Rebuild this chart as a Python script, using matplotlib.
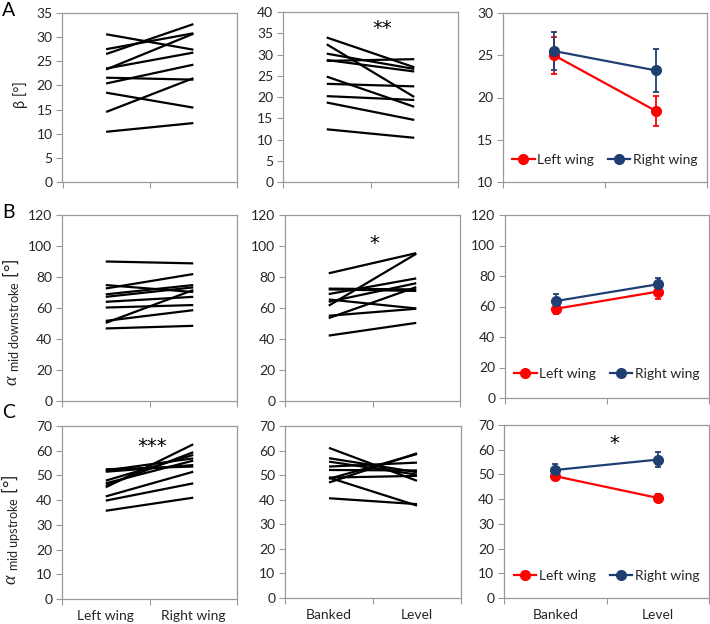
import numpy as np
import matplotlib.pyplot as plt
from matplotlib.lines import Line2D

plt.rcParams['font.family'] = ['Lato', 'DejaVu Sans']
plt.rcParams['mathtext.fontset'] = 'custom'
plt.rcParams['mathtext.rm'] = 'Lato'
plt.rcParams['mathtext.it'] = 'Liberation Serif:italic'

W, H = 710, 624

# category labels
wing_labels = ['Left wing', 'Right wing']
flight_labels = ['Banked', 'Level']

# A: beta, individual birds
beta_lw = [10.4, 14.5, 18.5, 21.6, 20.4, 23.3, 23.5, 26.5, 27.5, 30.6]
beta_rw = [12.2, 21.5, 15.4, 21.2, 24.3, 30.7, 26.8, 32.7, 30.8, 27.4]
beta_banked = [12.4, 18.7, 20.2, 23.1, 24.8, 28.5, 28.7, 30.2, 32.4, 34.0]
beta_level = [10.4, 14.6, 19.3, 22.5, 17.7, 28.9, 26.0, 26.6, 20.0, 27.0]

# B: alpha mid downstroke
down_lw = [90.0, 46.8, 60.3, 51.7, 50.4, 64.0, 67.2, 68.8, 72.6, 74.8]
down_rw = [88.8, 48.5, 61.9, 58.6, 71.6, 67.2, 73.3, 74.8, 81.9, 70.3]
down_banked = [42.2, 82.4, 61.5, 72.5, 72.0, 69.0, 65.5, 64.0, 55.0, 53.5]
down_level = [50.4, 95.4, 95.0, 72.0, 71.0, 79.1, 59.7, 76.0, 59.5, 73.5]

# C: alpha mid upstroke
up_lw = [35.7, 39.8, 41.5, 45.2, 45.8, 46.8, 47.9, 51.5, 52.5, 52.0]
up_rw = [41.0, 46.8, 51.5, 62.6, 59.4, 56.0, 58.3, 54.2, 53.6, 56.9]
up_banked = [40.6, 49.0, 61.1, 47.0, 48.5, 56.9, 55.5, 53.5, 52.1, 49.0]
up_level = [38.2, 37.6, 47.7, 58.9, 58.6, 51.2, 50.2, 55.1, 51.9, 49.7]

# means +- error (left / right wing, banked vs level)
beta_left_mean, beta_left_err = [25.0, 18.4], [2.2, 1.75]
beta_right_mean, beta_right_err = [25.5, 23.2], [2.2, 2.5]
down_left_mean, down_left_err = [58.5, 69.8], [3.2, 5.2]
down_right_mean, down_right_err = [63.6, 74.6], [4.6, 4.3]
up_left_mean, up_left_err = [49.3, 40.5], [1.7, 1.4]
up_right_mean, up_right_err = [51.8, 56.0], [2.3, 3.0]

RED = '#FF0000'
BLUE = '#1F3F73'
GRID = '#9A9A9A'
TXT = '#262626'
FS = 10

fig = plt.figure(figsize=(W / 100, H / 100), dpi=100)


def make_ax(x0, x1, y0, y1):
    return fig.add_axes([x0 / W, 1 - y1 / H, (x1 - x0) / W, (y1 - y0) / H])


def style(ax, ylim, step, xlabels=None):
    ax.set_xlim(-0.5, 1.5)
    ax.set_ylim(*ylim)
    ax.set_yticks(np.arange(ylim[0], ylim[1] + 0.1, step))
    ax.set_xticks([0, 1])
    ax.set_xticks([-0.5, 0.5, 1.5], minor=True)
    if xlabels:
        ax.set_xticklabels(xlabels)
    else:
        ax.set_xticklabels([])
    ax.tick_params(axis='x', which='major', length=0, pad=8, labelsize=FS, labelcolor=TXT)
    ax.tick_params(axis='x', which='minor', length=4, width=0.8, color=GRID, direction='out')
    ax.tick_params(axis='y', length=4, width=0.8, color=GRID, pad=3, labelsize=FS, labelcolor=TXT)
    for sp in ax.spines.values():
        sp.set_color(GRID)
        sp.set_linewidth(0.9)


def spaghetti(ax, a, b):
    for v0, v1 in zip(a, b):
        ax.plot([0, 1], [v0, v1], color='black', lw=1.6, solid_capstyle='butt')


def stars(ax, x, y, s):
    ax.text(x, y, s, ha='center', va='center', fontsize=14, color='black',
            family='DejaVu Sans')


def means(ax, lm, le, rm, re_):
    ax.errorbar([0, 1], lm, yerr=le, color=RED, lw=1.6, marker='o', ms=7,
                capsize=2.5, elinewidth=1.3, capthick=1.3)
    ax.errorbar([0, 1], rm, yerr=re_, color=BLUE, lw=1.6, marker='o', ms=7,
                capsize=2.5, elinewidth=1.3, capthick=1.3)
    handles = [Line2D([], [], color=RED, lw=1.6, marker='o', ms=7),
               Line2D([], [], color=BLUE, lw=1.6, marker='o', ms=7)]
    ax.legend(handles, ['Left wing', 'Right wing'], loc='center', bbox_to_anchor=(0.5, 0.13),
              ncol=2, frameon=False, fontsize=FS, handlelength=1.6, handletextpad=0.2,
              columnspacing=1.0, labelcolor=TXT)


# row A
ax = make_ax(62.5, 237, 13, 182)
spaghetti(ax, beta_lw, beta_rw)
style(ax, (0, 35), 5)

ax = make_ax(283, 458, 12, 182)
spaghetti(ax, beta_banked, beta_level)
style(ax, (0, 40), 5)
stars(ax, 0.63, 36.2, '**')

ax = make_ax(503, 707, 13, 182)
means(ax, beta_left_mean, beta_left_err, beta_right_mean, beta_right_err)
style(ax, (10, 30), 5)

# row B
ax = make_ax(62, 237, 215, 401)
spaghetti(ax, down_lw, down_rw)
style(ax, (0, 120), 20)

ax = make_ax(285, 460, 215, 401)
spaghetti(ax, down_banked, down_level)
style(ax, (0, 120), 20)
stars(ax, 0.52, 101.5, '*')

ax = make_ax(505, 709, 215, 398)
means(ax, down_left_mean, down_left_err, down_right_mean, down_right_err)
style(ax, (0, 120), 20)

# row C
ax = make_ax(62, 237, 426, 599)
spaghetti(ax, up_lw, up_rw)
style(ax, (0, 70), 10, wing_labels)
stars(ax, 0.53, 61.8, '***')

ax = make_ax(285, 461, 426, 598)
spaghetti(ax, up_banked, up_level)
style(ax, (0, 70), 10, flight_labels)

ax = make_ax(504, 709, 425, 598)
means(ax, up_left_mean, up_left_err, up_right_mean, up_right_err)
style(ax, (0, 70), 10, flight_labels)
stars(ax, 0.58, 62.6, '*')

# panel letters
for letter, y in [('A', 11), ('B', 213), ('C', 412)]:
    fig.text(2 / W, 1 - y / H, letter, fontsize=14, color='black', ha='left', va='center')

# y-axis labels
fig.text(21 / W, 1 - 95 / H, 'β [°]', rotation=90, ha='center', va='center',
         fontsize=FS + 0.5, color=TXT)
fig.text(11 / W, 1 - 322 / H, r'$\alpha$ $_{\mathrm{mid\ downstroke}}$ [°]', rotation=90,
         ha='center', va='center', fontsize=FS + 3, color=TXT)
fig.text(11 / W, 1 - 530 / H, r'$\alpha$ $_{\mathrm{mid\ upstroke}}$ [°]', rotation=90,
         ha='center', va='center', fontsize=FS + 3, color=TXT)

fig.savefig('out.png', dpi=100)
